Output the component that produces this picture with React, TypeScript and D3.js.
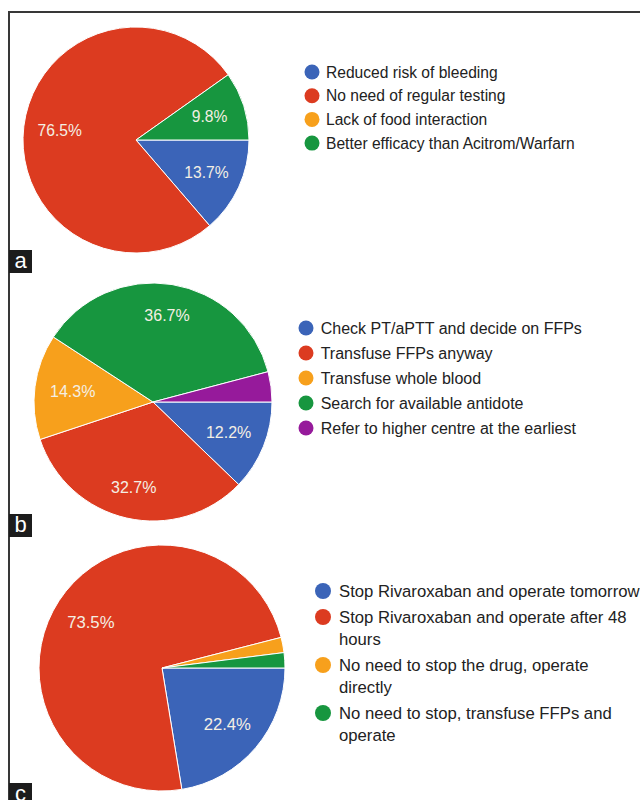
import React from "react";
import * as d3 from "d3";

const width = 640;
const height = 800;
const font = "'Liberation Sans', Arial, Helvetica, sans-serif";

// Google-chart style palette (blue, red, orange, green, purple)
const palette = ["#3b64b8", "#dc3b20", "#f7a01c", "#17963f", "#961a9b"];

// panel a
const labelsA = [
  ["Reduced risk of bleeding"],
  ["No need of regular testing"],
  ["Lack of food interaction"],
  ["Better efficacy than Acitrom/Warfarn"],
];
const valuesA = [13.7, 76.5, 0, 9.8];

// panel b
const labelsB = [
  ["Check PT/aPTT and decide on FFPs"],
  ["Transfuse FFPs anyway"],
  ["Transfuse whole blood"],
  ["Search for available antidote"],
  ["Refer to higher centre at the earliest"],
];
const valuesB = [12.2, 32.7, 14.3, 36.7, 4.1];

// panel c
const labelsC = [
  ["Stop Rivaroxaban and operate tomorrow"],
  ["Stop Rivaroxaban and operate after 48", "hours"],
  ["No need to stop the drug, operate", "directly"],
  ["No need to stop, transfuse FFPs and", "operate"],
];
const valuesC = [22.4, 73.5, 2.0, 2.0];

const panelTags = ["a", "b", "c"];

type Layout = {
  cx: number;
  cy: number;
  r: number;
  fs: number;
  legX: number;
  legY: number;
  legStep: number;
  lineStep: number;
  dotR: number;
  gap: number;
  tagY: number;
};

const layouts: Layout[] = [
  { cx: 136, cy: 140, r: 113, fs: 15.6, legX: 312, legY: 72, legStep: 23.7, lineStep: 21, dotR: 7.5, gap: 14, tagY: 250 },
  { cx: 153, cy: 402, r: 119, fs: 16, legX: 306, legY: 328, legStep: 25, lineStep: 22, dotR: 7.5, gap: 14.7, tagY: 514 },
  { cx: 162, cy: 668, r: 123, fs: 16.7, legX: 323, legY: 591, legStep: 26, lineStep: 22, dotR: 8, gap: 16, tagY: 783 },
];

function PiePanel({ values, labels, layout, tag }: { values: number[]; labels: string[][]; layout: Layout; tag: string }) {
  const pie = d3
    .pie<number>()
    .sort(null)
    .value((d) => d)
    .startAngle(Math.PI / 2)
    .endAngle(Math.PI / 2 + 2 * Math.PI);
  const arcs = pie(values);
  const arc = d3.arc<d3.PieArcDatum<number>>().innerRadius(0).outerRadius(layout.r);
  const total = d3.sum(values);

  // legend rows: each item takes legStep plus extra lines
  let y = layout.legY;
  const rows = labels.map((lines) => {
    const row = { y, lines };
    y += layout.legStep + (lines.length - 1) * layout.lineStep;
    return row;
  });

  return (
    <g>
      <g transform={`translate(${layout.cx},${layout.cy})`}>
        {arcs.map((a, i) =>
          a.value > 0 ? (
            <path key={i} d={arc(a) || ""} fill={palette[i]} stroke="#fff" strokeWidth={1} />
          ) : null
        )}
        {arcs.map((a, i) => {
          if (a.value / total < 0.05) return null;
          const mid = (a.startAngle + a.endAngle) / 2;
          const f = 0.75 - 0.07 * Math.abs(Math.sin(mid));
          const x = Math.sin(mid) * layout.r * f;
          const yy = -Math.cos(mid) * layout.r * f;
          return (
            <text
              key={i}
              x={x}
              y={yy + layout.fs * 0.36}
              textAnchor="middle"
              fontSize={layout.fs}
              fill="#f4efe4"
              fontFamily={font}
            >
              {a.value.toFixed(1)}%
            </text>
          );
        })}
      </g>
      {rows.map((row, i) => (
        <g key={i}>
          <circle cx={layout.legX} cy={row.y} r={layout.dotR} fill={palette[i]} />
          {row.lines.map((ln, j) => (
            <text
              key={j}
              x={layout.legX + layout.gap}
              y={row.y + layout.fs * 0.36 + j * layout.lineStep}
              fontSize={layout.fs}
              fill="#222"
              fontFamily={font}
            >
              {ln}
            </text>
          ))}
        </g>
      ))}
      <rect x={9} y={layout.tagY} width={23} height={23} fill="#1c1c1c" />
      <text x={20.5} y={layout.tagY + 18} textAnchor="middle" fontSize={22} fill="#fff" fontFamily={font}>
        {tag}
      </text>
    </g>
  );
}

export default function App() {
  const panels = [
    { values: valuesA, labels: labelsA },
    { values: valuesB, labels: labelsB },
    { values: valuesC, labels: labelsC },
  ];
  return (
    <svg
      width={width}
      height={height}
      style={{ position: "absolute", left: 0, top: 0, background: "#fff" }}
    >
      <rect x={0} y={0} width={width} height={height} fill="#fff" />
      <line x1={9} y1={12} x2={width} y2={12} stroke="#383838" strokeWidth={2} />
      <line x1={9} y1={11} x2={9} y2={height} stroke="#383838" strokeWidth={2} />
      {panels.map((p, i) => (
        <PiePanel key={i} values={p.values} labels={p.labels} layout={layouts[i]} tag={panelTags[i]} />
      ))}
    </svg>
  );
}
